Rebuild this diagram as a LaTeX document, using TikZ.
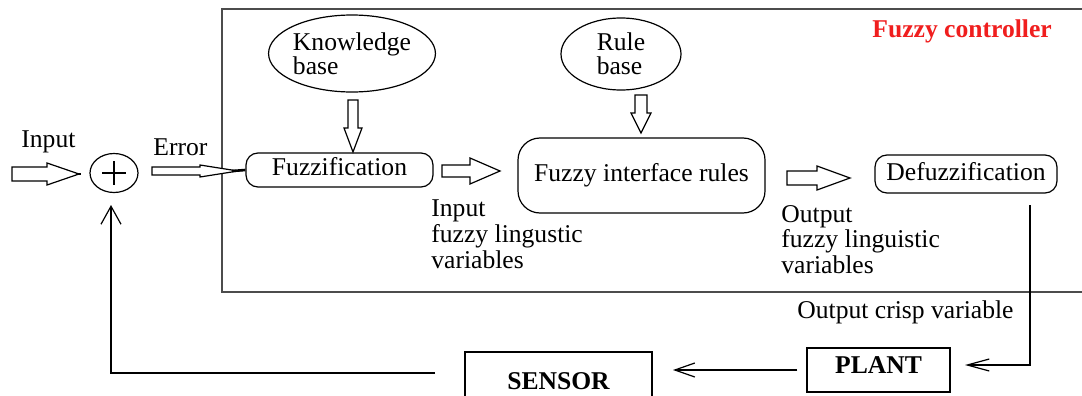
\documentclass[tikz,border=0pt]{standalone}
\usepackage{fontspec}
\setmainfont{Liberation Serif}
\usetikzlibrary{shapes.geometric,arrows.meta,calc}
\newcommand{\harrowR}[6]{% x0, head start, tip, y, half shaft, half head
  \draw[hollow] (#1,#4-#5) -- (#2,#4-#5) -- (#2,#4-#6) -- (#3,#4) -- (#2,#4+#6) -- (#2,#4+#5) -- (#1,#4+#5) -- cycle;}
\newcommand{\harrowD}[6]{% y0, head start, tip, x, half shaft, half head
  \draw[hollow] (#4-#5,#1) -- (#4-#5,#2) -- (#4-#6,#2) -- (#4,#3) -- (#4+#6,#2) -- (#4+#5,#2) -- (#4+#5,#1) -- cycle;}
\newcommand{\ovalfont}{\fontsize{12.8}{12.2}\selectfont}
\begin{document}
\begin{tikzpicture}[x=0.5pt,y=-0.5pt,
  txt/.style={inner sep=0pt, font=\fontsize{12.8}{13}\selectfont, anchor=base west},
  lbl/.style={txt, align=left},
  rbox/.style={draw, line width=0.6pt, rounded corners=6pt, inner sep=0pt, font=\fontsize{12.8}{13}\selectfont},
  sbox/.style={draw, line width=0.75pt, inner sep=0pt, font=\bfseries\fontsize{12.8}{13}\selectfont},
  oval/.style={draw, ellipse, line width=0.6pt, inner sep=0pt, align=left, font=\ovalfont},
  hollow/.style={draw, line width=0.6pt, fill=white, line join=miter},
  conn/.style={draw, line width=0.6pt},
  stub/.style={draw, line width=1.3pt}
]
\clip (0,0) rectangle (1082,396);
\fill[white] (0,0) rectangle (1082,396);
% controller frame
\draw[line width=1.1pt, draw=black!70] (222,9) rectangle (1110,292);
\node[txt, font=\bfseries\fontsize{12.8}{13}\selectfont, text={rgb,255:red,240;green,30;blue,30}] (fc) at (872,38) {Fuzzy controller};

% summing junction
\node[oval, minimum width=24pt, minimum height=19.5pt] (sum) at (114,173) {};
\draw[conn] ($(sum.center)+(0,-12)$) -- ($(sum.center)+(0,12)$);
\draw[conn] ($(sum.center)+(-12,0)$) -- ($(sum.center)+(12,0)$);

% bases
\node[oval, minimum width=81pt, minimum height=38.5pt] (kb) at (352,53.5) {Knowledge\\base};
\node[oval, minimum width=60pt, minimum height=36pt] (rb) at (621,54) {Rule\\base};

% blocks
\node[rbox, minimum width=93.5pt, minimum height=17pt, text height=8.7pt, text depth=3.7pt] (fuzz) at (339.5,170) {Fuzzification};
\node[rbox, rounded corners=11pt, minimum width=123.5pt, minimum height=37.5pt] (fir) at (641.5,175.5) {Fuzzy interface rules};
\node[rbox, minimum width=91pt, minimum height=19pt, text height=8.7pt, text depth=2.7pt] (def) at (966,174) {Defuzzification};
\node[sbox, minimum width=71.5pt, minimum height=22pt, text height=8.5pt, text depth=5.5pt] (plant) at (878.5,370) {PLANT};
\node[sbox, minimum width=93.5pt, minimum height=29pt] (sensor) at (558.5,381) {SENSOR};

% labels
\node[txt] (inl) at (21,147) {Input};
\node[txt] (errl) at (153,155) {Error};
\node[lbl] (ifl) at (431,268) {Input\\fuzzy lingustic\\variables};
\node[lbl, font=\fontsize{12.8}{12.75}\selectfont] (ofl) at (781,273) {Output\\fuzzy linguistic\\variables};
\node[txt] (ocv) at (797,318) {Output crisp variable};

% hollow arrows
\harrowR{12}{47}{79}{174}{7}{11}
\draw[stub] (76,174) -- (81,174);
\harrowR{152}{200}{238}{171}{4}{6}
\draw[stub] (232,171) -- (fuzz.west);
\harrowR{442}{470}{500}{171}{6}{13}
\harrowR{787}{817}{850}{178}{7}{12}
\harrowD{100}{128}{152}{353}{5}{9}
\harrowD{95}{113}{133}{641}{6}{10}

% connectors
\coordinate (o1) at (1030,205);
\coordinate (o2) at (965,365);
\draw[conn, -{Straight Barb[length=11pt,width=6pt]}] (o1) |- (o2);
\coordinate (p1) at ($(plant.west)+(-9,0)$);
\coordinate (s1) at (673,370);
\draw[conn, -{Straight Barb[length=10pt,width=7pt]}] (p1) -- (s1);
\coordinate (f1) at (435,373);
\coordinate (f2) at (111,205);
\draw[conn, -{Straight Barb[length=9pt,width=10pt]}] (f1) -| (f2);
\end{tikzpicture}
\end{document}
